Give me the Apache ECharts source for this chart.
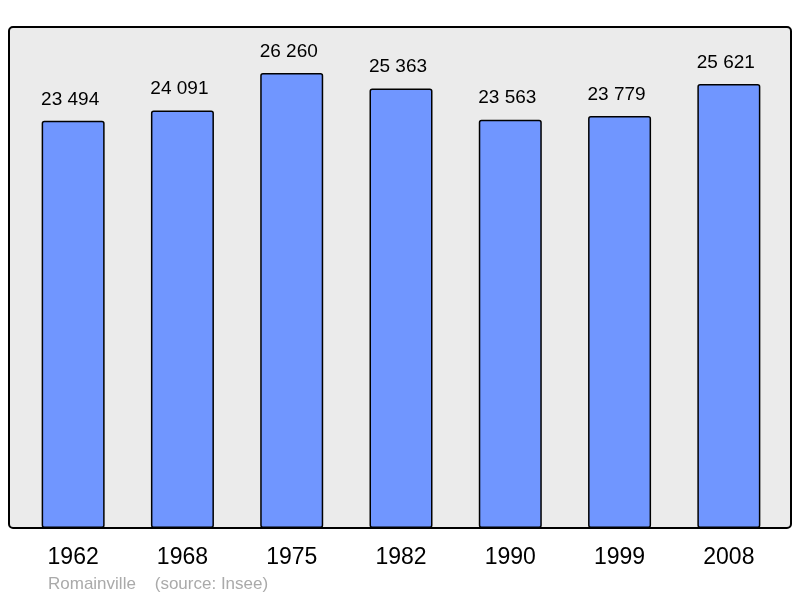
<!DOCTYPE html>
<html>
<head>
<meta charset="utf-8">
<script src="https://cdn.jsdelivr.net/npm/echarts@6/dist/echarts.min.js"></script>
<style>html,body{margin:0;padding:0;background:#fff}#c{width:800px;height:598px}</style>
</head>
<body>
<div id="c"></div>
<script>
const years = ['1962', '1968', '1975', '1982', '1990', '1999', '2008'];
const population = [23494, 24091, 26260, 25363, 23563, 23779, 25621];
const footerText = 'Romainville    (source: Insee)';

const fmt = v => String(v).replace(/\B(?=(\d{3})+(?!\d))/g, ' ');
const chart = echarts.init(document.getElementById('c'), null, {renderer: 'canvas'});
chart.setOption({
  animation: false,
  backgroundColor: '#ffffff',
  graphic: [
    {type: 'rect', z: -10, shape: {x: 9, y: 27, width: 782, height: 501, r: 4},
     style: {fill: '#ebebeb', stroke: '#000', lineWidth: 2}},
    {type: 'text', left: 48, top: 576,
     style: {text: footerText, fill: '#aaaaaa', font: '17px "Liberation Sans", Arial, sans-serif'}}
  ],
  grid: {left: 18.5, width: 765, top: 27, bottom: 70},
  xAxis: {
    type: 'category', data: years,
    axisLine: {show: false}, axisTick: {show: false},
    axisLabel: {color: '#000', fontSize: 23, fontFamily: 'Liberation Sans, Arial, sans-serif', margin: 18}
  },
  yAxis: {type: 'value', min: 0, max: 28910, show: false, splitLine: {show: false}},
  series: [{
    type: 'bar', data: population, barWidth: 63,
    itemStyle: {color: '#7096ff', borderColor: '#000', borderWidth: 1.5, borderRadius: 2},
    label: {show: true, position: 'top', distance: 12, offset: [-3, 0], color: '#000', fontSize: 19,
      fontFamily: 'Liberation Sans, Arial, sans-serif', formatter: p => fmt(p.value)}
  }]
});
</script>
</body>
</html>
